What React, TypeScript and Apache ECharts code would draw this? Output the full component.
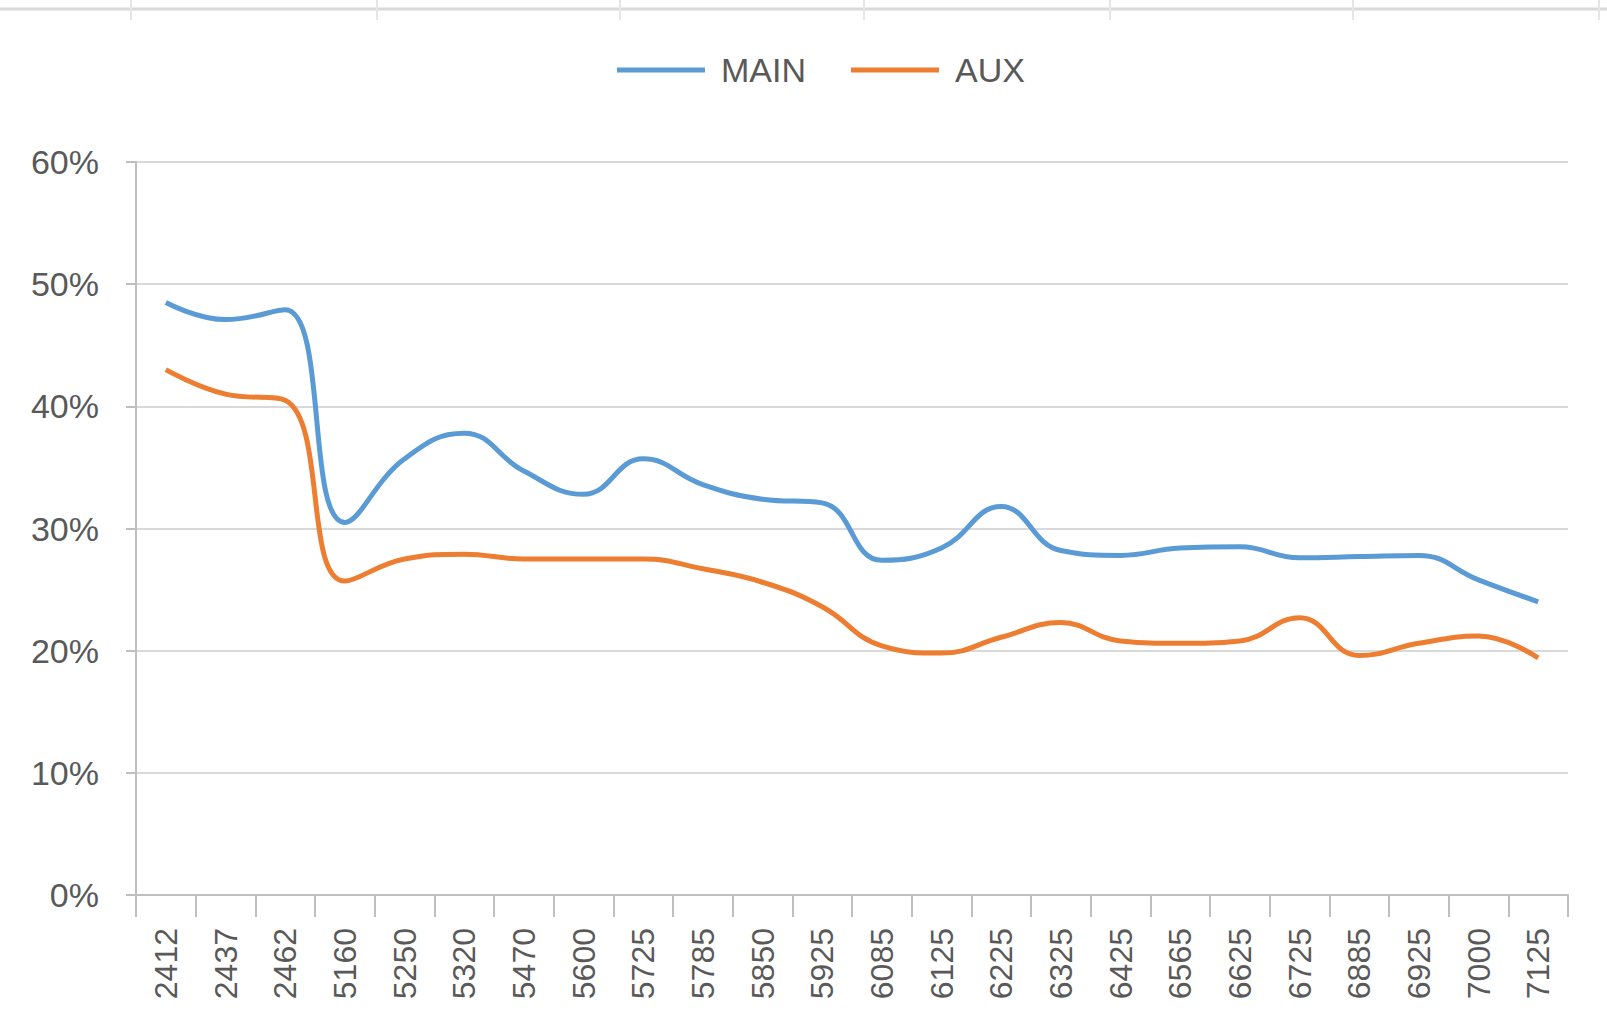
import React, { useEffect, useRef } from "react";
import * as echarts from "echarts";

const categories = ["2412","2437","2462","5160","5250","5320","5470","5600","5725","5785","5850","5925","6085","6125","6225","6325","6425","6565","6625","6725","6885","6925","7000","7125"];
const mainValues = [48.5,47.1,47.9,30.5,35.7,37.8,34.7,32.8,35.7,33.6,32.4,32.1,27.4,28.4,31.8,28.2,27.8,28.4,28.5,27.6,27.7,27.8,25.8,24.0];
const auxValues = [43.0,41.0,40.5,25.7,27.5,27.9,27.5,27.5,27.5,26.7,25.6,23.6,20.4,19.8,21.1,22.3,20.8,20.6,20.8,22.7,19.6,20.6,21.2,19.4];
const yTicks = [0, 10, 20, 30, 40, 50, 60];
const topTickXs = [131, 377, 620, 864, 1110, 1353, 1599];

export default function App() {
  const ref = useRef<HTMLDivElement>(null);
  useEffect(() => {
    document.body.style.margin = "0";
    const chart = echarts.init(ref.current!, null, { renderer: "svg" });
    const font = "Liberation Sans, Arial, sans-serif";
    const textColor = "#595959";
    const graphics: any[] = [
      { type: "line", shape: { x1: 0, y1: 9, x2: 1607, y2: 9 }, style: { stroke: "#D9D9D9", lineWidth: 3 } },
      ...topTickXs.map((x) => ({ type: "line", shape: { x1: x, y1: 0, x2: x, y2: 20 }, style: { stroke: "#E6E6E6", lineWidth: 2 } })),
    ];
    chart.setOption({
      animation: false,
      backgroundColor: "#ffffff",
      graphic: graphics,
      legend: {
        left: 612,
        top: 48,
        itemWidth: 88,
        itemHeight: 5,
        itemGap: 45,
        icon: "rect",
        textStyle: { fontFamily: font, fontSize: 34, color: textColor, padding: [0, 0, 0, 11] },
        data: ["MAIN", "AUX"],
      },
      grid: { left: 136, right: 39, top: 162, bottom: 138, containLabel: false },
      xAxis: {
        type: "category",
        data: categories,
        boundaryGap: true,
        axisLine: { lineStyle: { color: "#BFBFBF", width: 2 } },
        axisTick: { show: true, length: 22, lineStyle: { color: "#BFBFBF", width: 2 } },
        axisLabel: { rotate: 90, margin: 33, fontFamily: font, fontSize: 32, color: textColor },
      },
      yAxis: {
        type: "value",
        min: 0,
        max: 60,
        interval: 10,
        axisLine: { show: true, lineStyle: { color: "#BFBFBF", width: 2 } },
        axisTick: { show: true, length: 10, lineStyle: { color: "#BFBFBF", width: 2 } },
        splitLine: { lineStyle: { color: "#D9D9D9", width: 2 } },
        axisLabel: {
          margin: 37,
          fontFamily: font,
          fontSize: 34,
          color: textColor,
          formatter: (v: number) => (yTicks.includes(v) ? v + "%" : ""),
        },
      },
      series: [
        {
          name: "MAIN",
          type: "line",
          data: mainValues,
          smooth: 0.45,
          showSymbol: false,
          color: "#5B9BD5",
          lineStyle: { width: 5, color: "#5B9BD5" },
        },
        {
          name: "AUX",
          type: "line",
          data: auxValues,
          smooth: 0.45,
          showSymbol: false,
          color: "#ED7D31",
          lineStyle: { width: 5, color: "#ED7D31" },
        },
      ],
    });
    return () => chart.dispose();
  }, []);
  return <div ref={ref} style={{ position: "absolute", left: 0, top: 0, width: 1607, height: 1033 }} />;
}
